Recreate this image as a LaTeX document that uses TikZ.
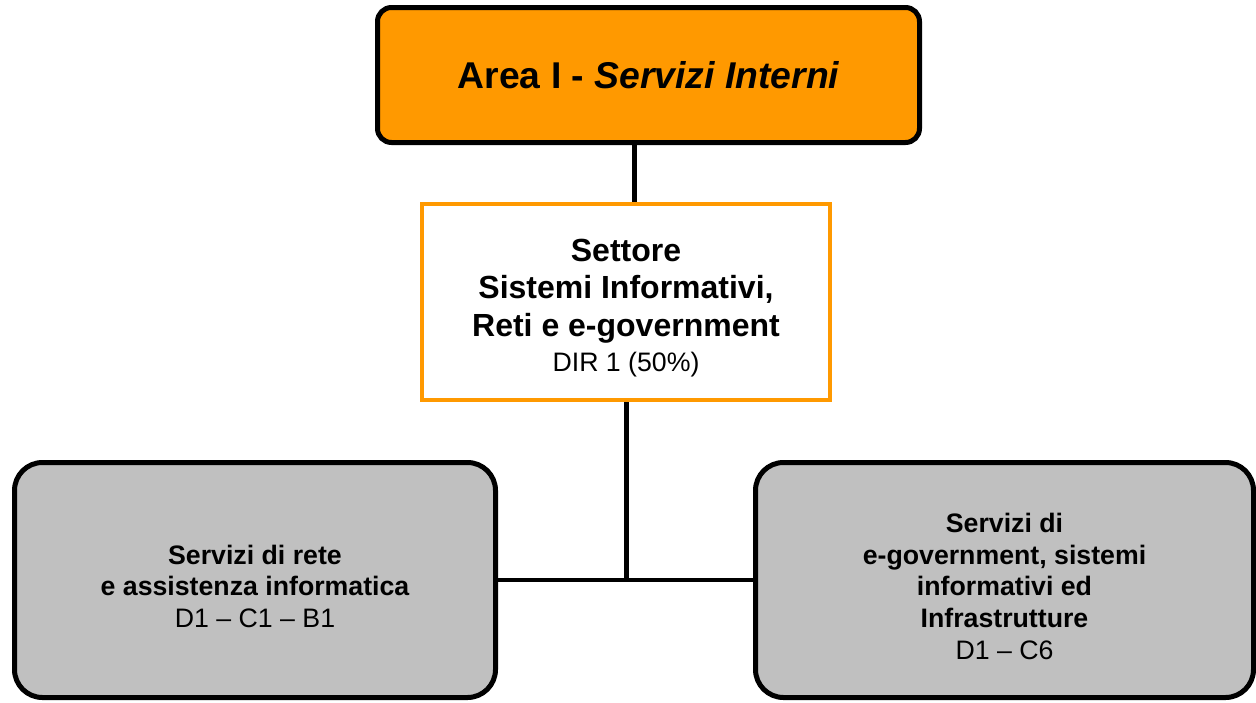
\documentclass[tikz,border=0pt]{standalone}
\usepackage{fontspec}
\setmainfont{Liberation Sans}
\usetikzlibrary{backgrounds}
\definecolor{areaorange}{HTML}{FF9900}
\definecolor{unitgray}{HTML}{C0C0C0}

\begin{document}
\begin{tikzpicture}[x=1pt,y=-1pt,
    areabox/.style={draw=black,line width=5pt,fill=areaorange,rounded corners=14pt,
        minimum width=542pt,minimum height=135pt,align=center,
        font=\fontsize{37.3}{44}\selectfont\bfseries},
    settorebox/.style={draw=areaorange,line width=4pt,fill=white,
        minimum width=408pt,minimum height=196pt,align=center,
        font=\fontsize{32}{37.5}\selectfont\bfseries},
    unitbox/.style={draw=black,line width=5pt,fill=unitgray,rounded corners=28pt,
        minimum height=235pt,align=center,
        font=\fontsize{26.7}{31.7}\selectfont\bfseries},
    link/.style={line width=5pt,black}]
    \useasboundingbox (0,0) rectangle (1256,702);

    % area
    \node[areabox] (area) at (648.5,75) {Area I - {\itshape Servizi Interni}};

    % settore
    \node[settorebox] (settore) at (626,302)
        {\rule{0pt}{35pt}Settore\\Sistemi Informativi,\\Reti e e-government\\[-2pt]
         {\fontsize{26.7}{31.7}\selectfont\mdseries DIR 1 (50\%)}};

    % servizi
    \node[unitbox,minimum width=481pt] (rete) at (255,580)
        {\rule{0pt}{32pt}Servizi di rete\\e assistenza informatica\\
         {\mdseries D1 – C1 – B1}};
    \node[unitbox,minimum width=498pt] (egov) at (1004.5,580)
        {\rule{0pt}{32pt}Servizi di\\e-government, sistemi\\informativi ed\\Infrastrutture\\
         {\mdseries D1 – C6}};

    % connectors
    \coordinate (topjoin) at (634,0);
    \begin{scope}[on background layer]
        \draw[link] (area.south -| topjoin) -- (settore.north -| topjoin);
        \draw[link] (settore.south) -- (settore.south |- rete.east);
        \draw[link,line width=4.5pt] (rete.east) -- (egov.west);
    \end{scope}
\end{tikzpicture}
\end{document}
